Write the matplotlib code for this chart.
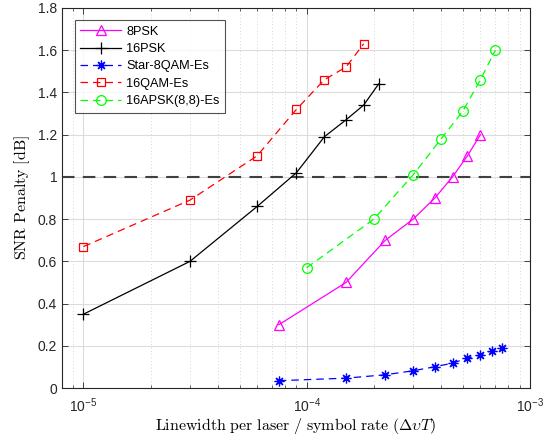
import numpy as np
import matplotlib
matplotlib.use("Agg")
import matplotlib.pyplot as plt
from matplotlib.ticker import LogLocator, NullFormatter, FixedLocator

plt.rcParams['mathtext.fontset'] = 'cm'
plt.rcParams['font.family'] = ['Liberation Sans', 'DejaVu Sans']

# Data
x_8psk = [7.5e-5, 1.5e-4, 2.25e-4, 3e-4, 3.75e-4, 4.5e-4, 5.25e-4, 6e-4]
y_8psk = [0.30, 0.50, 0.70, 0.80, 0.90, 1.00, 1.10, 1.20]

x_16psk = [1e-5, 3e-5, 6e-5, 9e-5, 1.2e-4, 1.5e-4, 1.8e-4, 2.1e-4]
y_16psk = [0.35, 0.60, 0.86, 1.02, 1.19, 1.27, 1.34, 1.44]

x_star8 = [7.5e-5, 1.5e-4, 2.25e-4, 3e-4, 3.75e-4, 4.5e-4, 5.25e-4, 6e-4, 6.75e-4, 7.5e-4]
y_star8 = [0.035, 0.047, 0.063, 0.082, 0.101, 0.118, 0.142, 0.157, 0.176, 0.189]

x_16qam = [1e-5, 3e-5, 6e-5, 9e-5, 1.2e-4, 1.5e-4, 1.8e-4]
y_16qam = [0.67, 0.89, 1.10, 1.32, 1.46, 1.52, 1.63]

x_16apsk = [1e-4, 2e-4, 3e-4, 4e-4, 5e-4, 6e-4, 7e-4]
y_16apsk = [0.57, 0.80, 1.01, 1.18, 1.31, 1.46, 1.60]

threshold = 1.0
y_ticks = [0, 0.2, 0.4, 0.6, 0.8, 1, 1.2, 1.4, 1.6, 1.8]
y_ticklabels = ['0', '0.2', '0.4', '0.6', '0.8', '1', '1.2', '1.4', '1.6', '1.8']

fig = plt.figure(figsize=(5.59, 4.40), dpi=100)
ax = fig.add_axes([0.111, 0.118, 0.837, 0.864])

ax.axhline(threshold, color='#404040', lw=1.5, ls=(0, (6, 4)), zorder=2)

ms = 7
ax.plot(x_8psk, y_8psk, color=(1, 0, 1), ls='-', lw=0.9, marker='^', mfc='none', ms=ms, mew=0.9, label='8PSK', zorder=3)
ax.plot(x_16psk, y_16psk, color='k', ls='-', lw=0.9, marker='+', ms=ms+1, mew=0.9, label='16PSK', zorder=3)
ax.plot(x_star8, y_star8, color=(0, 0, 1), ls=(0, (6, 4)), lw=0.9, marker=(8, 2, 0), ms=ms, mew=0.9, label='Star-8QAM-Es', zorder=3)
ax.plot(x_16qam, y_16qam, color=(1, 0, 0), ls=(0, (6, 4)), lw=0.9, marker='s', mfc='none', ms=ms-1, mew=0.9, label='16QAM-Es', zorder=3)
ax.plot(x_16apsk, y_16apsk, color=(0, 1, 0), ls=(0, (6, 4)), lw=0.9, marker='o', mfc='none', ms=ms, mew=0.9, label='16APSK(8,8)-Es', zorder=3)

ax.set_xscale('log')
ax.set_xlim(10**-5.096, 1e-3)
ax.set_ylim(0, 1.8)
ax.set_yticks(y_ticks)
ax.set_yticklabels(y_ticklabels)
ax.xaxis.set_major_locator(FixedLocator([1e-5, 1e-4, 1e-3]))
ax.xaxis.set_minor_locator(LogLocator(base=10, subs=np.arange(2, 10), numticks=20))
ax.xaxis.set_minor_formatter(NullFormatter())

ax.grid(True, which='major', color='#dcdcdc', lw=0.8, ls='-', zorder=0)
ax.grid(True, which='minor', axis='x', color='#c8c8c8', lw=0.6, ls=(0, (1, 3)), zorder=0)
ax.set_axisbelow(True)

ax.tick_params(axis='both', which='both', direction='in', top=True, right=True, labelsize=10, colors='#262626')
ax.tick_params(axis='both', which='major', length=4, width=0.6)
ax.tick_params(axis='x', which='minor', length=2.5, width=0.5)
ax.tick_params(axis='x', which='major', pad=6)
for s in ax.spines.values():
    s.set_linewidth(0.8)
    s.set_color('#262626')

ax.set_ylabel(r'$\mathrm{SNR\ Penalty\ [dB]}$', fontsize=11.5, labelpad=4)
ax.set_xlabel(r'$\mathrm{Linewidth\ per\ laser\ /\ symbol\ rate\ (}\Delta\upsilon T\mathrm{)}$', fontsize=11.5, labelpad=1)

leg = ax.legend(loc='upper left', bbox_to_anchor=(0.013, 0.985), fontsize=9.2, frameon=True, fancybox=False,
                edgecolor='#262626', handlelength=3.2, borderpad=0.45, labelspacing=0.42, handletextpad=0.4)
leg.get_frame().set_linewidth(0.8)

fig.savefig('out.png', dpi=100)
